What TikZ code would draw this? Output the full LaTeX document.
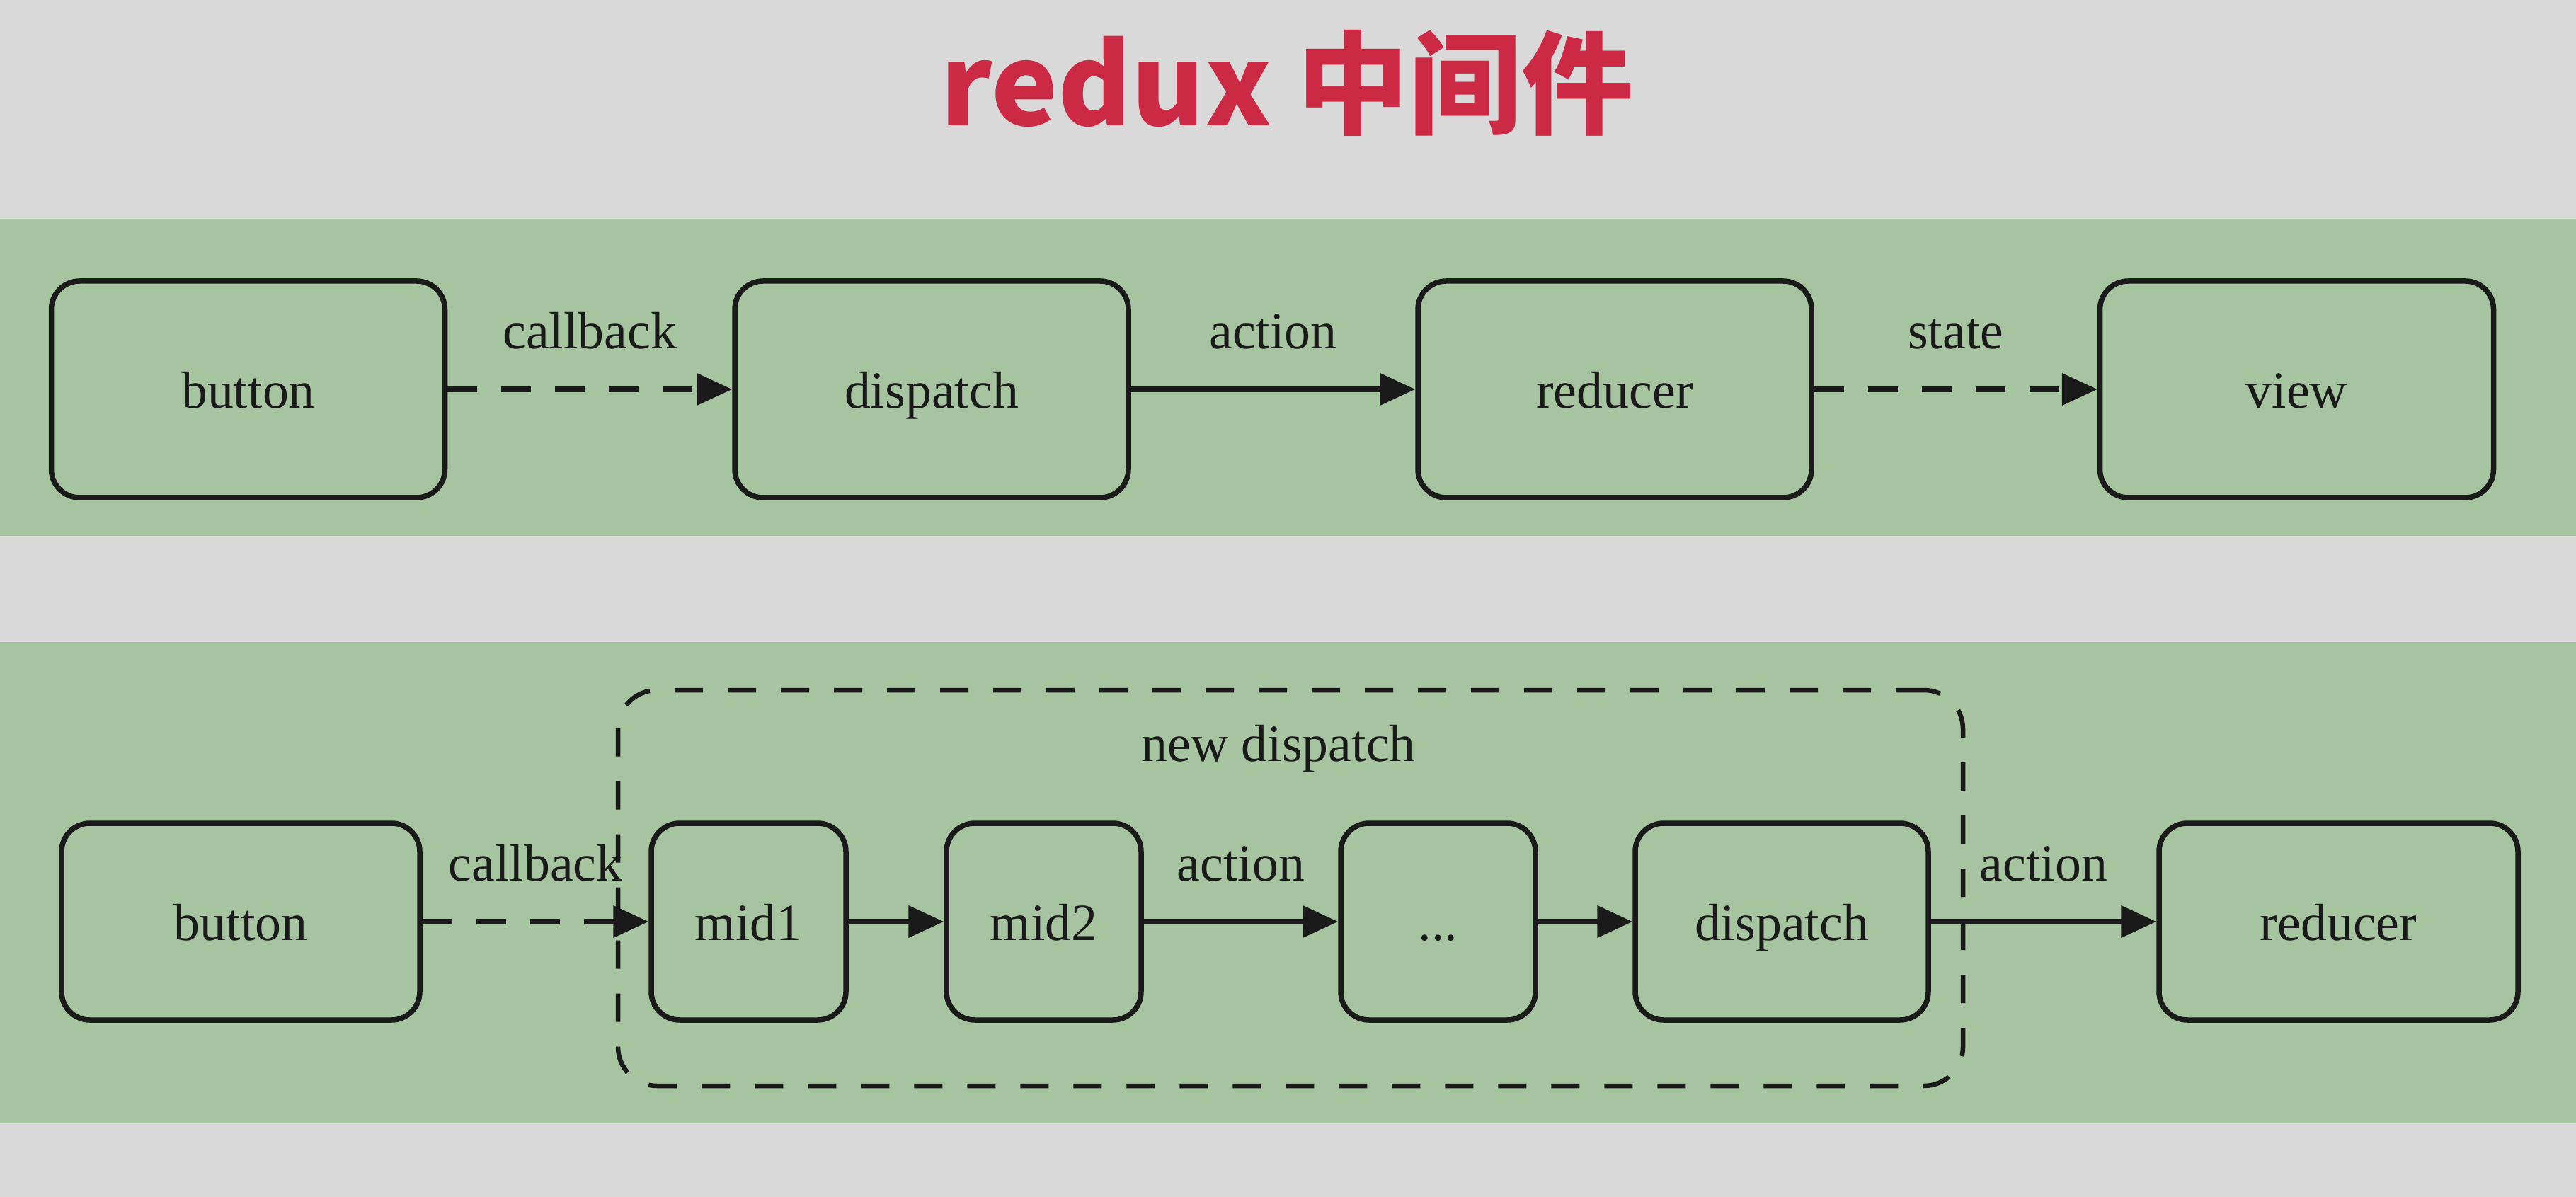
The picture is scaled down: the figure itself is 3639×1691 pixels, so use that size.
\documentclass[tikz,border=0pt]{standalone}
\usepackage{fontspec}
\setmainfont{Liberation Serif}
\newfontfamily\cjk{Noto Sans CJK SC}
\usepackage{xcolor}
\usepackage{tikz}
\usetikzlibrary{arrows.meta,positioning}
\definecolor{bgGray}{RGB}{217,217,217}
\definecolor{bandGreen}{RGB}{166,196,160}
\definecolor{titleRed}{RGB}{204,41,68}
\definecolor{inkBlack}{RGB}{26,26,26}
\newcommand\lblfont{\fontsize{21}{25}\selectfont}

\begin{document}
\begin{tikzpicture}[x=0.1mm,y=-0.1mm,>={Triangle[length=5mm,width=4.4mm]},
	box/.style={draw=inkBlack,line width=0.75mm,rounded corners=4mm,fill=bandGreen,text=inkBlack,font=\lblfont,text height=15pt,text depth=0pt},
	bigbox/.style={box,minimum width=55.6mm,minimum height=30.6mm},
	smallbox/.style={box,minimum height=27.8mm},
	lbl/.style={text=inkBlack,font=\lblfont,inner sep=7pt,text height=15pt,text depth=0pt},
	flow/.style={->,draw=inkBlack,line width=0.75mm},
	dashline/.style={dash pattern=on 4.2mm off 3.4mm},
	newbox/.style={draw=inkBlack,line width=0.65mm,rounded corners=5.5mm,dash pattern=on 4mm off 3.5mm}
]
\useasboundingbox (0,0) rectangle (3639,1691);
\fill[bgGray] (0,0) rectangle (3639,1691);
\fill[bandGreen] (0,309) rectangle (3639,757);
\fill[bandGreen] (0,907) rectangle (3639,1587);

\node[font=\cjk\bfseries\fontsize{45}{54}\selectfont,text=titleRed] (title) at (1818,117) {redux 中间件};

\node[bigbox] (buttonA) at (350.5,550) {button};
\node[bigbox] (dispatchA) at (1316,550) {dispatch};
\node[bigbox] (reducerA) at (2281,550) {reducer};
\node[bigbox] (viewA) at (3244.5,550) {view};

\draw[flow,dashline] (buttonA) -- node[lbl,above=2.9mm] {callback} (dispatchA);
\draw[flow] (dispatchA) -- node[lbl,above=2.9mm] {action} (reducerA);
\draw[flow,dashline] (reducerA) -- node[lbl,above=2.9mm] {state} (viewA);

\node[newbox,minimum width=190mm,minimum height=55.9mm] (newdispatch) at (1823,1254.5) {};
\node[lbl] (newlabel) at (1806,1049) {new dispatch};

\node[smallbox,minimum width=50.6mm] (buttonB) at (340,1302) {button};
\node[smallbox,minimum width=27.5mm] (midA) at (1057.5,1302) {mid1};
\node[smallbox,minimum width=27.5mm] (midB) at (1474.5,1302) {mid2};
\node[smallbox,minimum width=27.5mm] (midN) at (2031.5,1302) {...};
\node[smallbox,minimum width=41.4mm] (dispatchB) at (2517,1302) {dispatch};
\node[smallbox,minimum width=50.7mm] (reducerB) at (3303.5,1302) {reducer};

\draw[flow,dashline] (buttonB) -- node[lbl,above=2.9mm] {callback} (midA);
\draw[flow] (midA) -- (midB);
\draw[flow] (midB) -- node[lbl,above=2.9mm] {action} (midN);
\draw[flow] (midN) -- (dispatchB);
\draw[flow] (dispatchB) -- node[lbl,above=2.9mm] {action} (reducerB);
\end{tikzpicture}
\end{document}
